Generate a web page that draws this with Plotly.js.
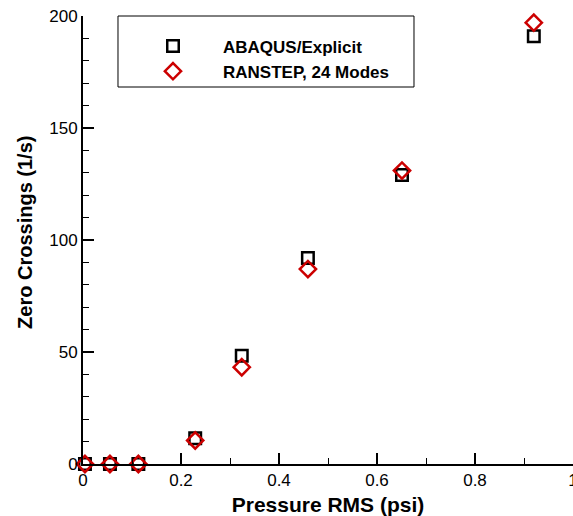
<!DOCTYPE html>
<html>
<head>
<meta charset="utf-8">
<script src="https://cdn.plot.ly/plotly-3.0.1.min.js"></script>
<style>html,body{margin:0;padding:0;background:#fff;}#chart{width:573px;height:516px;}</style>
</head>
<body>
<div id="chart"></div>
<script>
var pressureRms = [0.004, 0.055, 0.113, 0.229, 0.324, 0.459, 0.651, 0.920];
var abaqusZeroCrossings = [0, 0, 0, 11.5, 48.3, 92, 129, 191];
var ranstepZeroCrossings = [0, 0, 0, 10.5, 43.2, 87, 131, 197];
var seriesNames = ['ABAQUS/Explicit', 'RANSTEP, 24 Modes'];
var xTickVals = [0, 0.2, 0.4, 0.6, 0.8, 1];
var xTickText = ['0', '0.2', '0.4', '0.6', '0.8', '1'];
var yTickVals = [0, 50, 100, 150, 200];
var yTickText = ['0', '50', '100', '150', '200'];
var xTitle = 'Pressure RMS (psi)';
var yTitle = 'Zero Crossings (1/s)';

var font = 'Liberation Sans, Arial, sans-serif';
var traces = [
  {x: pressureRms, y: abaqusZeroCrossings, name: seriesNames[0], type: 'scatter', mode: 'markers',
   cliponaxis: false,
   marker: {symbol: 'square-open', size: 11.5, color: '#000000', line: {width: 2.5, color: '#000000'}}},
  {x: pressureRms, y: ranstepZeroCrossings, name: seriesNames[1], type: 'scatter', mode: 'markers',
   cliponaxis: false,
   marker: {symbol: 'diamond-open', size: 12.5, color: '#cc0000', line: {width: 2.5, color: '#cc0000'}}}
];

var layout = {
  width: 573, height: 516,
  margin: {l: 83, r: 0, t: 16, b: 52, pad: 0},
  paper_bgcolor: '#ffffff', plot_bgcolor: '#ffffff',
  font: {family: font, size: 17, color: '#000000'},
  showlegend: true,
  legend: {x: 0.0816, y: 0.972, xanchor: 'left', yanchor: 'top', bgcolor: 'rgba(0,0,0,0)',
           borderwidth: 0, font: {family: font, size: 17, color: '#000000', weight: 'bold'},
           itemwidth: 90, tracegroupgap: 0},
  xaxis: {
    range: [0, 1], showgrid: false, zeroline: false, showline: true, linecolor: '#000000', linewidth: 2,
    ticks: 'inside', ticklen: 11, tickwidth: 2, tickcolor: '#000000',
    tickvals: xTickVals, ticktext: xTickText, ticklabeloverflow: 'allow',
    minor: {dtick: 0.1, ticks: 'inside', ticklen: 6, tickwidth: 1, tickcolor: '#000000'},
    tickfont: {family: font, size: 17, color: '#000000'},
    title: {text: xTitle, font: {family: font, size: 21, color: '#000000', weight: 'bold'}, standoff: 8}
  },
  yaxis: {
    range: [0, 200], showgrid: false, zeroline: false, showline: true, linecolor: '#000000', linewidth: 2,
    ticks: 'inside', ticklen: 11, tickwidth: 2, tickcolor: '#000000',
    tickvals: yTickVals, ticktext: yTickText, ticklabeloverflow: 'allow',
    minor: {dtick: 10, ticks: 'inside', ticklen: 6, tickwidth: 1, tickcolor: '#000000'},
    tickfont: {family: font, size: 17, color: '#000000'}
  },
  annotations: [
    {text: yTitle, xref: 'paper', yref: 'paper', x: -0.1184, y: 0.518, xanchor: 'center', yanchor: 'middle',
     textangle: -90, showarrow: false, font: {family: font, size: 20, color: '#000000', weight: 'bold'}}
  ],
  shapes: [
    {type: 'rect', xref: 'paper', yref: 'paper', x0: 0.0714, x1: 0.6755, y0: 0.8415, y1: 1,
     line: {color: '#000000', width: 1}, fillcolor: 'rgba(0,0,0,0)', layer: 'below'}
  ]
};

Plotly.newPlot('chart', traces, layout, {displayModeBar: false, staticPlot: true});
</script>
</body>
</html>
